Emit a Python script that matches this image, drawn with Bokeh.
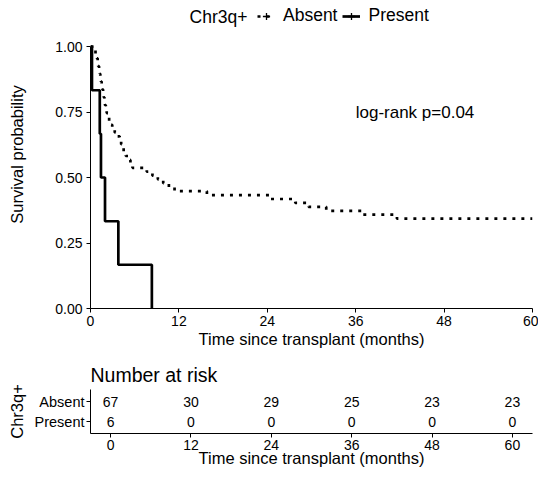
from bokeh.plotting import figure
from bokeh.layouts import column
from bokeh.models import Range1d, FixedTicker, Legend, LegendItem, Label
from bokeh.core.properties import value
from bokeh.embed import file_html
from bokeh.resources import INLINE

FONT = "Liberation Sans"

# ---------------- data ----------------
groups = ["Absent", "Present"]
legend_title = "Chr3q+"

absent_time = [0, 0.44, 0.68, 0.87, 0.97, 1.04, 1.16, 1.26, 1.33, 1.41, 1.51,
               1.61, 1.71, 1.80, 1.89, 1.97, 2.08, 2.20, 2.37, 2.53, 2.76,
               2.95, 3.29, 3.63, 3.96, 4.16, 4.35, 4.50, 4.79, 5.17, 5.42,
               5.70, 7.64, 8.41, 9.14, 9.87, 10.64, 11.41, 15.8, 24.4, 27.8,
               29.6, 32.0, 37.0, 41.6, 60]
absent_surv = [1.000, 0.985, 0.970, 0.955, 0.940, 0.925, 0.910, 0.896, 0.881,
               0.866, 0.851, 0.836, 0.821, 0.806, 0.791, 0.776, 0.761, 0.746,
               0.731, 0.716, 0.701, 0.687, 0.672, 0.657, 0.642, 0.627, 0.612,
               0.597, 0.582, 0.567, 0.552, 0.537, 0.522, 0.507, 0.493, 0.478,
               0.463, 0.448, 0.433, 0.418, 0.403, 0.388, 0.373, 0.358, 0.343,
               0.343]

present_time = [0, 0.2, 1.26, 1.42, 1.97, 3.78, 8.33]
present_surv = [1.0, 0.833, 0.667, 0.5, 0.333, 0.167, 0.0]

x_ticks = [0, 12, 24, 36, 48, 60]
y_ticks = [0, 0.25, 0.5, 0.75, 1.0]
y_tick_labels = ["0.00", "0.25", "0.50", "0.75", "1.00"]

risk_times = [0, 12, 24, 36, 48, 60]
risk_absent = [67, 30, 29, 25, 23, 23]
risk_present = [6, 0, 0, 0, 0, 0]
risk_rows = {"Absent": 2, "Present": 1}

pval_text = "log-rank p=0.04"
x_title = "Time since transplant (months)"
y_title = "Survival probability"
risk_title = "Number at risk"


def style_axis(ax, tick_size="14px", label_size="16.5px"):
    ax.axis_line_color = "black"
    ax.axis_line_width = 1
    ax.major_tick_line_color = "black"
    ax.major_tick_in = 0
    ax.major_tick_out = 4
    ax.minor_tick_line_color = None
    ax.major_label_text_font = FONT
    ax.major_label_text_font_size = tick_size
    ax.major_label_text_color = "black"
    ax.axis_label_text_font = FONT
    ax.axis_label_text_font_size = label_size
    ax.axis_label_text_font_style = "normal"
    ax.axis_label_text_color = "black"


# ---------------- main survival plot ----------------
# the frame reaches the top of the canvas so the legend sits inside it;
# the y axis line itself is bounded to 0..1
p1 = figure(width=538, height=358, x_range=Range1d(0, 60),
            y_range=Range1d(0, 1.1756),
            output_backend="svg", toolbar_location=None,
            min_border_left=90, min_border_right=6, min_border_top=0,
            min_border_bottom=50)
p1.title = None
p1.outline_line_color = None
p1.xgrid.visible = False
p1.ygrid.visible = False
p1.background_fill_color = "white"
p1.border_fill_color = "white"

r_abs = p1.step(x=absent_time, y=absent_surv, mode="after", line_color="black",
                line_width=2.7, line_dash="3 6")
r_pre = p1.step(x=present_time, y=present_surv, mode="after", line_color="black",
                line_width=2.7)
c_abs = p1.scatter(x=absent_time, y=absent_surv, marker="cross", size=8,
                   line_color="black", line_width=1.3, visible=False)
c_pre = p1.scatter(x=present_time, y=present_surv, marker="cross", size=8,
                   line_color="black", line_width=1.3, visible=False)

style_axis(p1.xaxis[0])
style_axis(p1.yaxis[0])
p1.xaxis.ticker = FixedTicker(ticks=x_ticks)
p1.yaxis.ticker = FixedTicker(ticks=y_ticks)
p1.yaxis.bounds = (0, 1)
p1.yaxis.major_label_overrides = dict(zip(y_ticks, y_tick_labels))
p1.xaxis.axis_label = x_title
p1.yaxis.axis_label = y_title
p1.xaxis.major_label_standoff = 3
p1.xaxis.axis_label_standoff = 1
p1.yaxis.major_label_standoff = 4
p1.yaxis.axis_label_standoff = 26

legend = Legend(items=[LegendItem(label=groups[0], renderers=[r_abs, c_abs]),
                       LegendItem(label=groups[1], renderers=[r_pre, c_pre])],
                location=(167, 282), orientation="horizontal",
                glyph_width=18, glyph_height=20, label_standoff=8, spacing=5,
                padding=0, margin=0, border_line_color=None,
                background_fill_alpha=0, label_text_font=FONT,
                label_text_font_size="17.5px", label_text_color="black")
p1.add_layout(legend)

p1.add_layout(Label(x=13.44, y=1.1125, text=legend_title, text_font=FONT,
                    text_font_size="17.5px", text_color="black",
                    text_align="left", text_baseline="alphabetic"))

p1.add_layout(Label(x=36.0, y=0.75, text=pval_text, text_font=FONT,
                    text_font_size="17px", text_color="black",
                    text_align="left", text_baseline="middle"))

# ---------------- risk table ----------------
p2 = figure(width=538, height=118, x_range=Range1d(-3, 63), y_range=Range1d(0.4, 2.6),
            output_backend="svg", toolbar_location=None, title=risk_title,
            min_border_left=90, min_border_right=6, min_border_top=31,
            min_border_bottom=43)
p2.outline_line_color = None
p2.xgrid.visible = False
p2.ygrid.visible = False
p2.background_fill_color = "white"
p2.border_fill_color = "white"
p2.title.text_font = FONT
p2.title.text_font_size = "19.5px"
p2.title.text_font_style = "normal"
p2.title.text_color = "black"
p2.title.align = "left"
p2.title.standoff = 7

for g, counts in zip(groups, [risk_absent, risk_present]):
    p2.text(x=risk_times, y=[risk_rows[g]] * len(risk_times),
            text=[str(c) for c in counts], text_align="center",
            text_baseline="middle", text_font=value(FONT),
            text_font_size="14px", text_color="black")

style_axis(p2.xaxis[0])
style_axis(p2.yaxis[0], tick_size="14.5px")
p2.xaxis.ticker = FixedTicker(ticks=risk_times)
p2.yaxis.ticker = FixedTicker(ticks=list(risk_rows.values()))
p2.yaxis.major_label_overrides = {v: k for k, v in risk_rows.items()}
p2.xaxis.axis_label = x_title
p2.yaxis.axis_label = legend_title
p2.xaxis.major_label_standoff = 2
p2.xaxis.axis_label_standoff = -4
p2.yaxis.major_label_standoff = 2
p2.yaxis.axis_label_standoff = 6

layout = column(p1, p2)
open("out.html", "w").write(file_html(layout, INLINE))
